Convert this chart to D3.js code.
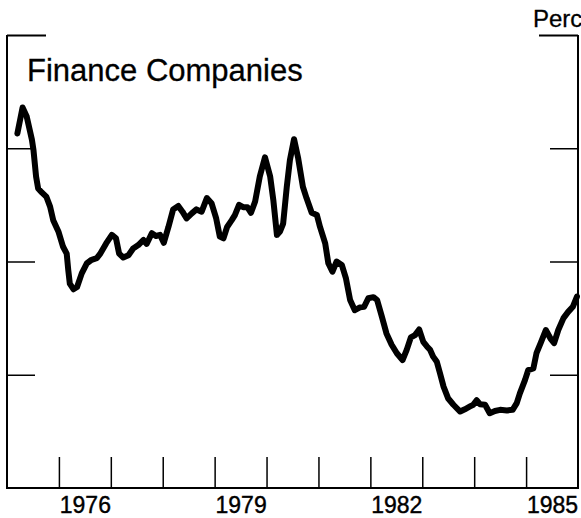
<!DOCTYPE html>
<html>
<head>
<meta charset="utf-8">
<script src="https://cdn.jsdelivr.net/npm/d3@7"></script>
<style>
  body { margin: 0; background: #fff; }
  svg { display: block; font-family: "Liberation Sans", Arial, Helvetica, sans-serif; }
</style>
</head>
<body>
<div id="chart"></div>
<script>
// Finance companies series (decimal year, percent)
const years = [
  1975.20, 1975.30, 1975.38, 1975.48, 1975.51, 1975.56, 1975.60, 1975.67, 1975.76, 1975.83,
  1975.89, 1975.99, 1976.08, 1976.15, 1976.18, 1976.21, 1976.28, 1976.35, 1976.44, 1976.54,
  1976.63, 1976.73, 1976.79, 1976.91, 1977.02, 1977.10, 1977.16, 1977.24, 1977.34, 1977.43,
  1977.53, 1977.63, 1977.69, 1977.79, 1977.87, 1977.95, 1978.02, 1978.11, 1978.20, 1978.30,
  1978.38, 1978.46, 1978.56, 1978.65, 1978.75, 1978.85, 1978.94, 1979.03, 1979.10, 1979.17,
  1979.24, 1979.33, 1979.39, 1979.47, 1979.55, 1979.63, 1979.70, 1979.78, 1979.87, 1979.97,
  1980.07, 1980.13, 1980.20, 1980.26, 1980.32, 1980.39, 1980.45, 1980.53, 1980.61, 1980.70,
  1980.77, 1980.87, 1980.97, 1981.03, 1981.13, 1981.19, 1981.27, 1981.35, 1981.45, 1981.53,
  1981.61, 1981.70, 1981.80, 1981.88, 1981.96, 1982.06, 1982.13, 1982.22, 1982.31, 1982.41,
  1982.51, 1982.62, 1982.70, 1982.78, 1982.86, 1982.94, 1983.02, 1983.09, 1983.15, 1983.21,
  1983.28, 1983.34, 1983.41, 1983.50, 1983.60, 1983.73, 1983.82, 1983.92, 1983.98, 1984.05,
  1984.11, 1984.21, 1984.30, 1984.40, 1984.50, 1984.63, 1984.74, 1984.82, 1984.88, 1984.98,
  1985.04, 1985.14, 1985.20, 1985.28, 1985.38, 1985.47, 1985.54, 1985.62, 1985.72, 1985.81,
  1985.90, 1985.98
];
const values = [
  10.26, 10.72, 10.56, 10.15, 9.97, 9.50, 9.29, 9.22, 9.14, 8.97,
  8.73, 8.53, 8.26, 8.14, 7.85, 7.61, 7.51, 7.55, 7.79, 7.97,
  8.03, 8.06, 8.13, 8.32, 8.47, 8.41, 8.14, 8.07, 8.11, 8.23,
  8.29, 8.38, 8.31, 8.50, 8.45, 8.47, 8.33, 8.61, 8.92, 8.98,
  8.88, 8.76, 8.85, 8.92, 8.88, 9.12, 9.03, 8.76, 8.44, 8.41,
  8.61, 8.73, 8.82, 9.00, 8.96, 8.96, 8.86, 9.06, 9.50, 9.84,
  9.50, 9.09, 8.47, 8.53, 8.67, 9.32, 9.79, 10.16, 9.82, 9.32,
  9.12, 8.86, 8.82, 8.61, 8.32, 7.97, 7.82, 8.00, 7.94, 7.70,
  7.32, 7.14, 7.19, 7.20, 7.35, 7.37, 7.32, 7.03, 6.73, 6.53,
  6.38, 6.26, 6.44, 6.66, 6.70, 6.80, 6.58, 6.50, 6.44, 6.32,
  6.23, 6.03, 5.79, 5.58, 5.47, 5.35, 5.39, 5.44, 5.47, 5.55,
  5.48, 5.47, 5.32, 5.36, 5.38, 5.37, 5.38, 5.50, 5.67, 5.91,
  6.08, 6.11, 6.38, 6.56, 6.79, 6.64, 6.56, 6.79, 7.00, 7.11,
  7.20, 7.38
];

// tick marks at the start of each year, labels centred in the year
const tickYears = [1976, 1977, 1978, 1979, 1980, 1981, 1982, 1983, 1984, 1985];
const labelYears = [1976, 1979, 1982, 1985];
const yTicks = [6, 8, 10];
const yTop = 12;

const width = 581, height = 518;
const plotLeft = 7, plotRight = 578, plotTop = 35, plotBottom = 488;

const svg = d3.select("#chart").append("svg")
    .attr("width", width)
    .attr("height", height);

const x = d3.scaleLinear().domain([1975, 1986]).range([plotLeft, plotRight]);
const y = d3.scaleLinear().domain([4, yTop]).range([plotBottom, plotTop]);

// x ticks pointing up into the plot
svg.append("g")
    .attr("transform", `translate(0,${plotBottom})`)
    .call(d3.axisBottom(x).tickValues(tickYears).tickSize(-31).tickFormat(""))
    .call(g => g.select(".domain").remove())
    .selectAll("line").attr("stroke", "#000").attr("stroke-width", 1.5);

// year labels
svg.append("g")
    .attr("transform", `translate(0,${plotBottom})`)
    .call(d3.axisBottom(x).tickValues(labelYears.map(d => d + 0.5))
        .tickSize(0).tickPadding(9).tickFormat(d => Math.floor(d)))
    .call(g => g.select(".domain").remove())
    .selectAll("text")
    .attr("fill", "#000")
    .attr("stroke", "#000")
    .attr("stroke-width", 0.4)
    .attr("font-size", 23)
    .attr("font-family", "Liberation Sans, Arial, sans-serif");

// y ticks, left and right, inward
function yTicksAt(xpos, dir) {
    const axis = dir < 0 ? d3.axisLeft(y) : d3.axisRight(y);
    svg.append("g")
        .attr("transform", `translate(${xpos},0)`)
        .call(axis.tickValues(yTicks).tickSize(-28).tickFormat(""))
        .call(g => g.select(".domain").remove())
        .selectAll("line").attr("stroke", "#000").attr("stroke-width", 1.5);
    svg.append("g")
        .attr("transform", `translate(${xpos},0)`)
        .call((dir < 0 ? d3.axisLeft(y) : d3.axisRight(y)).tickValues([yTop]).tickSize(-39).tickFormat(""))
        .call(g => g.select(".domain").remove())
        .selectAll("line").attr("stroke", "#000").attr("stroke-width", 1.8);
}
yTicksAt(plotLeft, -1);
yTicksAt(plotRight, 1);

// frame: left, bottom, right
svg.append("path")
    .attr("d", `M${plotLeft},${plotTop}V${plotBottom}H${plotRight}V${plotTop}`)
    .attr("fill", "none")
    .attr("stroke", "#000")
    .attr("stroke-width", 2);

// the series
const line = d3.line()
    .x((d, i) => x(years[i]))
    .y(d => y(d))
    .curve(d3.curveLinear);

svg.append("path")
    .datum(values)
    .attr("d", line)
    .attr("fill", "none")
    .attr("stroke", "#000")
    .attr("stroke-width", 6)
    .attr("stroke-linejoin", "round")
    .attr("stroke-linecap", "round");

// labels
svg.append("text")
    .attr("x", 27)
    .attr("y", 81)
    .attr("font-size", 31)
    .attr("fill", "#000")
    .attr("stroke", "#000")
    .attr("stroke-width", 0.3)
    .text("Finance Companies");

svg.append("text")
    .attr("x", 533)
    .attr("y", 27)
    .attr("font-size", 24)
    .attr("fill", "#000")
    .attr("stroke", "#000")
    .attr("stroke-width", 0.3)
    .text("Percent");
</script>
</body>
</html>
